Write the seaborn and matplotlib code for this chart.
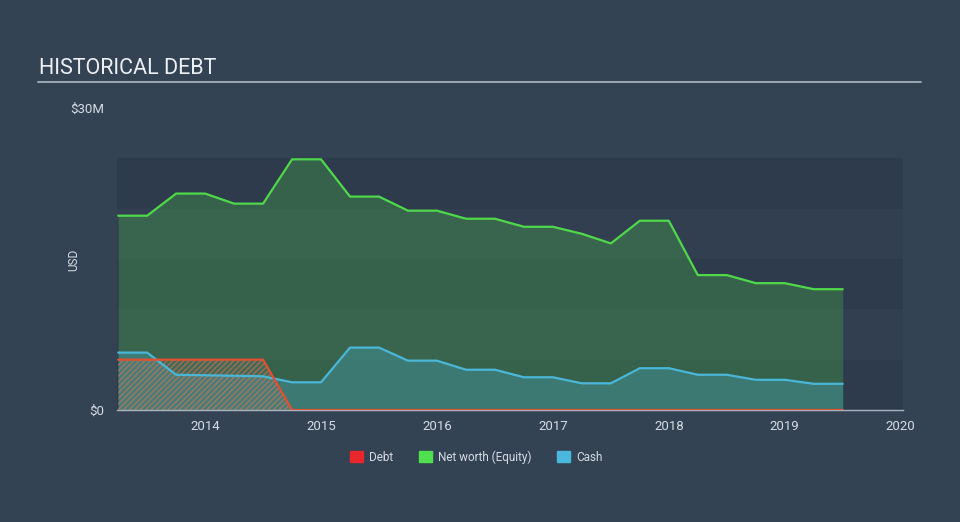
import matplotlib
matplotlib.use("Agg")
import matplotlib.pyplot as plt
import matplotlib.patches as mpatches
import seaborn as sns
import pandas as pd
import numpy as np

# ---- data (USD millions), quarterly ----
dates = [2013.25, 2013.5, 2013.75, 2014.0, 2014.25, 2014.5, 2014.75, 2015.0,
         2015.25, 2015.5, 2015.75, 2016.0, 2016.25, 2016.5, 2016.75, 2017.0,
         2017.25, 2017.5, 2017.75, 2018.0, 2018.25, 2018.5, 2018.75, 2019.0,
         2019.25, 2019.5]
net_worth = [19.3, 19.3, 21.5, 21.5, 20.5, 20.5, 24.9, 24.9,
             21.2, 21.2, 19.8, 19.8, 19.0, 19.0, 18.2, 18.2,
             17.5, 16.55, 18.8, 18.8, 13.4, 13.4, 12.6, 12.6,
             12.0, 12.0]
cash = [5.7, 5.7, 3.5, 3.45, 3.4, 3.35, 2.75, 2.75,
        6.2, 6.2, 4.9, 4.9, 4.0, 4.0, 3.25, 3.25,
        2.65, 2.65, 4.15, 4.15, 3.5, 3.5, 3.0, 3.0,
        2.6, 2.6]
debt = [5.0, 5.0, 5.0, 5.0, 5.0, 5.0, 0.0, 0.0,
        0.0, 0.0, 0.0, 0.0, 0.0, 0.0, 0.0, 0.0,
        0.0, 0.0, 0.0, 0.0, 0.0, 0.0, 0.0, 0.0,
        0.0, 0.0]
series_names = ["Debt", "Net worth (Equity)", "Cash"]
year_ticks = [2014, 2015, 2016, 2017, 2018, 2019, 2020]
y_ticks = [0, 30]
y_tick_labels = ["$0", "$30M"]

# ---- style ----
BG = "#344354"
BAND_DARK = "#2e3b4c"
BAND_LIGHT = "#323f51"
C_DEBT = "#e4502f"
C_NW = "#4fd94a"
C_CASH = "#4ab6d8"
L_DEBT = "#e8262b"
L_NW = "#4ee04e"
L_CASH = "#4ab8dc"
TXT = "#d5dbe2"

sns.set_style("dark")
plt.rcParams["font.family"] = ["Roboto", "DejaVu Sans"]

fig = plt.figure(figsize=(9.6, 5.22), dpi=100, facecolor=BG)
ax = fig.add_axes([117/960, (522-410)/522, (903-117)/960, (410-108)/522])
ax.set_facecolor(BG)

# horizontal bands 0..25M
for i, lo in enumerate(range(0, 25, 5)):
    ax.axhspan(lo, lo + 5, color=BAND_DARK if i % 2 == 0 else BAND_LIGHT, lw=0, zorder=0)

df = pd.DataFrame({
    "date": dates * 3,
    "value": debt + net_worth + cash,
    "series": [series_names[0]] * len(dates) + [series_names[1]] * len(dates) + [series_names[2]] * len(dates),
})

# fills
ax.fill_between(dates, 0, net_worth, color=C_NW, alpha=0.25, lw=0, zorder=1)
ax.fill_between(dates, 0, cash, color=C_CASH, alpha=0.28, lw=0, zorder=2)
ax.fill_between(dates, 0, debt, facecolor=(0.6, 0.6, 0.6, 0.15), edgecolor=(0.85, 0.45, 0.35, 0.6),
                hatch="//////", lw=0, zorder=3)

sns.lineplot(data=df, x="date", y="value", hue="series",
             palette={series_names[0]: C_DEBT, series_names[1]: C_NW, series_names[2]: C_CASH},
             hue_order=[series_names[1], series_names[2], series_names[0]],
             linewidth=1.6, legend=False, ax=ax, zorder=4)

ax.set_xlim(2013.24, 2020.02)
ax.set_ylim(0, 30)
ax.set_xticks(year_ticks)
ax.set_xticklabels([str(y) for y in year_ticks], color=TXT, fontsize=9.5)
ax.set_yticks(y_ticks)
ax.set_yticklabels(y_tick_labels, color=TXT, fontsize=9.5)
ax.tick_params(axis="x", colors="#aab4c0", length=5, width=1, direction="out", pad=2, labelcolor=TXT)
ax.tick_params(axis="y", length=0, pad=9, labelcolor=TXT)
ax.grid(False)
for s in ["top", "right", "left"]:
    ax.spines[s].set_visible(False)
ax.spines["bottom"].set_color("#aab4c0")
ax.spines["bottom"].set_linewidth(1)
ax.set_xlabel("")
ax.set_ylabel("USD", color=TXT, fontsize=8.5)
ax.yaxis.set_label_coords((80 - 117) / 786, (410 - 260) / 302)

# title + underline
fig.text(39/960, 1 - 68/522, "HISTORICAL DEBT", color="#eef1f4", fontsize=15.5,
         va="center", ha="left")
fig.add_artist(plt.Line2D([38/960, 921/960], [1 - 82/522, 1 - 82/522], color="#a9b0b9", lw=1.3))

handles = [mpatches.Patch(color=L_DEBT, label=series_names[0]),
           mpatches.Patch(color=L_NW, label=series_names[1]),
           mpatches.Patch(color=L_CASH, label=series_names[2])]
leg = fig.legend(handles=handles, loc="center", bbox_to_anchor=(476/960, 1 - 457/522), ncol=3,
                 frameon=False, fontsize=8.5, handlelength=1.1, handleheight=1.1,
                 columnspacing=2.2, handletextpad=0.5)
for t in leg.get_texts():
    t.set_color(TXT)

fig.savefig("out.png", dpi=100, facecolor=BG)
